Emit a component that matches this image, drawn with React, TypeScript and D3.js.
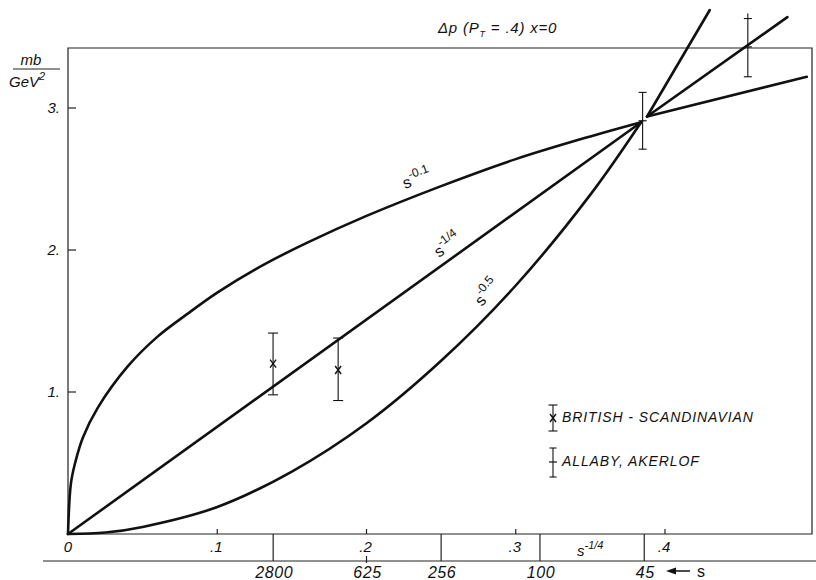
import { useEffect, useRef } from 'react';
import * as d3 from 'd3';

// x axis is s^-1/4, y axis is mb/GeV^2
const upperCurveX = [0, 0.002, 0.005, 0.01, 0.02, 0.04, 0.06, 0.08, 0.1, 0.13, 0.16, 0.2, 0.25, 0.3, 0.35, 0.384];
const upperCurveY = [0, 0.36, 0.51, 0.68, 0.89, 1.18, 1.39, 1.55, 1.7, 1.89, 2.05, 2.24, 2.45, 2.64, 2.8, 2.9];
const middleLineX = [0, 0.384];
const middleLineY = [0, 2.9];
const lowerCurveX = [0, 0.025, 0.05, 0.1, 0.15, 0.2, 0.25, 0.3, 0.35, 0.384];
const lowerCurveY = [0, 0.01, 0.05, 0.19, 0.44, 0.78, 1.22, 1.75, 2.39, 2.9];

// straight continuations above s = 45
const tailStart = [0.388, 2.94];
const tailEndX = [0.43, 0.482, 0.495];
const tailEndY = [3.69, 3.64, 3.22];

// British-Scandinavian points
const bsX = [0.1374, 0.181];
const bsY = [1.2, 1.155];
const bsLo = [0.98, 0.94];
const bsHi = [1.415, 1.38];

// Allaby, Akerlof points
const alX = [0.385, 0.4555];
const alY = [2.91, 3.43];
const alLo = [2.71, 3.22];
const alHi = [3.11, 3.63];

const xTicks = [0.1, 0.2, 0.3, 0.4];
const yTicks = [1, 2, 3];
const sTicks = [2800, 625, 256, 100, 45];

const FONT = '"Liberation Sans", Arial, sans-serif';

export default function App() {
  const svgRef = useRef<SVGSVGElement>(null);

  useEffect(() => {
    if (!svgRef.current) return;
    const svg = d3.select(svgRef.current);
    svg.selectAll('*').remove();

    const x = d3.scaleLinear().domain([0, 0.4]).range([68, 665]);
    const y = d3.scaleLinear().domain([0, 3]).range([534, 108]);
    const xAxisY = y(0);
    const sLineY = 561;
    const frameTop = 48;
    const frameRight = 812;

    const txt = (sel: d3.Selection<any, any, any, any>) =>
      sel.attr('font-family', FONT).attr('font-style', 'italic').attr('fill', '#111');

    // frame
    svg.append('path')
      .attr('d', `M${x(0)},${xAxisY}V${frameTop}H${frameRight}V${xAxisY}H${x(0)}`)
      .attr('fill', 'none').attr('stroke', '#222').attr('stroke-width', 1.2);

    // y ticks
    yTicks.forEach((t) => {
      svg.append('line').attr('x1', x(0)).attr('x2', x(0) + 8).attr('y1', y(t)).attr('y2', y(t))
        .attr('stroke', '#222').attr('stroke-width', 1.2);
      txt(svg.append('text')).attr('x', 60).attr('y', y(t) + 5).attr('text-anchor', 'end')
        .attr('font-size', 15).text(`${t}.`);
    });

    // y label mb / GeV^2
    txt(svg.append('text')).attr('x', 31).attr('y', 65).attr('text-anchor', 'middle').attr('font-size', 15).text('mb');
    svg.append('line').attr('x1', 13).attr('x2', 60).attr('y1', 69).attr('y2', 69).attr('stroke', '#222').attr('stroke-width', 1.2);
    const gev = txt(svg.append('text')).attr('x', 9).attr('y', 87).attr('font-size', 15);
    gev.append('tspan').text('GeV');
    gev.append('tspan').attr('dy', -7).attr('font-size', 11).text('2');

    // x ticks on main axis
    xTicks.forEach((t) => {
      svg.append('line').attr('x1', x(t)).attr('x2', x(t)).attr('y1', xAxisY).attr('y2', xAxisY - 5)
        .attr('stroke', '#222').attr('stroke-width', 1.2);
      txt(svg.append('text')).attr('x', x(t) - 1).attr('y', 552).attr('text-anchor', 'middle')
        .attr('font-size', 15).text(`.${Math.round(t * 10)}`);
    });
    txt(svg.append('text')).attr('x', x(0)).attr('y', 552).attr('text-anchor', 'middle').attr('font-size', 15).text('0');

    // s^-1/4 label
    const sq = txt(svg.append('text')).attr('x', 577).attr('y', 556).attr('font-size', 15);
    sq.append('tspan').text('s');
    sq.append('tspan').attr('dy', -7).attr('font-size', 11).text('-1/4');

    // secondary s scale
    svg.append('line').attr('x1', 43).attr('x2', 816).attr('y1', sLineY).attr('y2', sLineY)
      .attr('stroke', '#222').attr('stroke-width', 1.2);
    sTicks.forEach((s) => {
      const px = x(Math.pow(s, -0.25));
      if (s === 625) {
        svg.append('line').attr('x1', px).attr('x2', px).attr('y1', sLineY - 5).attr('y2', sLineY + 2)
          .attr('stroke', '#222').attr('stroke-width', 1.2);
      } else {
        svg.append('line').attr('x1', px).attr('x2', px).attr('y1', xAxisY).attr('y2', sLineY)
          .attr('stroke', '#222').attr('stroke-width', 1.2);
      }
      txt(svg.append('text')).attr('x', px + 1).attr('y', 578).attr('text-anchor', 'middle')
        .attr('font-size', 16).attr('letter-spacing', 0.6).text(String(s));
    });
    // arrow "<- s"
    svg.append('line').attr('x1', 672).attr('x2', 690).attr('y1', 571).attr('y2', 571).attr('stroke', '#111').attr('stroke-width', 1.5);
    svg.append('path').attr('d', 'M666,571 L676,567.5 L676,574.5 Z').attr('fill', '#111');
    svg.append('text').attr('x', 697).attr('y', 577).attr('font-family', FONT).attr('font-size', 16).attr('fill', '#111').text('s');

    // title
    const title = txt(svg.append('text')).attr('x', 438).attr('y', 33).attr('font-size', 15).attr('letter-spacing', 0.8);
    title.append('tspan').text('Δp (P');
    title.append('tspan').attr('dy', 4).attr('font-size', 9).text('T');
    title.append('tspan').attr('dy', -4).text(' = .4) x=0');

    // curves
    const line = d3.line<[number, number]>().x((d) => x(d[0])).y((d) => y(d[1]));
    const smooth = d3.line<[number, number]>().x((d) => x(d[0])).y((d) => y(d[1])).curve(d3.curveCatmullRom.alpha(0.5));
    const zip = (a: number[], b: number[]) => a.map((v, i) => [v, b[i]] as [number, number]);
    const curveStyle = (p: d3.Selection<SVGPathElement, any, any, any>) =>
      p.attr('fill', 'none').attr('stroke', '#111').attr('stroke-width', 2.6).attr('stroke-linecap', 'round');

    curveStyle(svg.append('path').attr('d', smooth(zip(upperCurveX, upperCurveY))));
    curveStyle(svg.append('path').attr('d', line(zip(middleLineX, middleLineY))));
    curveStyle(svg.append('path').attr('d', smooth(zip(lowerCurveX, lowerCurveY))));
    tailEndX.forEach((ex, i) => {
      curveStyle(svg.append('path').attr('d', line([[tailStart[0], tailStart[1]], [ex, tailEndY[i]]])));
    });

    // curve labels
    const curveLabels = [
      { sup: '-0.1', px: 405, py: 189, rot: -20 },
      { sup: '-1/4', px: 439, py: 258, rot: -36 },
      { sup: '-0.5', px: 482, py: 307, rot: -50 },
    ];
    curveLabels.forEach((l) => {
      const t = svg.append('text').attr('transform', `translate(${l.px},${l.py}) rotate(${l.rot})`)
        .attr('font-family', FONT).attr('font-size', 16).attr('fill', '#111');
      t.append('tspan').text('s');
      t.append('tspan').attr('dy', -8).attr('font-size', 12).text(l.sup);
    });

    // error bars
    const errBar = (cx: number, top: number, bot: number, cap: number) => {
      svg.append('line').attr('x1', cx).attr('x2', cx).attr('y1', top).attr('y2', bot).attr('stroke', '#111').attr('stroke-width', 1.1);
      [top, bot].forEach((yy) =>
        svg.append('line').attr('x1', cx - cap / 2).attr('x2', cx + cap / 2).attr('y1', yy).attr('y2', yy).attr('stroke', '#111').attr('stroke-width', 1.1));
    };
    const xMark = (cx: number, cy: number) => {
      svg.append('path').attr('d', `M${cx - 3},${cy - 4}L${cx + 3},${cy + 4}M${cx + 3},${cy - 4}L${cx - 3},${cy + 4}`)
        .attr('stroke', '#111').attr('stroke-width', 1.4);
    };
    const plusMark = (cx: number, cy: number) => {
      svg.append('path').attr('d', `M${cx - 4},${cy}H${cx + 4}`).attr('stroke', '#111').attr('stroke-width', 1.2);
    };

    bsX.forEach((v, i) => {
      errBar(x(v), y(bsHi[i]), y(bsLo[i]), 10);
      xMark(x(v), y(bsY[i]));
    });
    alX.forEach((v, i) => {
      errBar(x(v), y(alHi[i]), y(alLo[i]), 8);
      plusMark(x(v), y(alY[i]));
    });
    // small tick above the top cap of the upper Allaby point
    svg.append('line').attr('x1', x(alX[1])).attr('x2', x(alX[1])).attr('y1', y(alHi[1]) - 5).attr('y2', y(alHi[1]))
      .attr('stroke', '#111').attr('stroke-width', 1.1);

    // legend
    errBar(553, 405, 431, 9);
    xMark(553, 418);
    txt(svg.append('text')).attr('x', 562).attr('y', 422).attr('font-size', 14).attr('letter-spacing', 0.9).text('BRITISH - SCANDINAVIAN');
    errBar(553, 448, 477, 7);
    plusMark(553, 462);
    txt(svg.append('text')).attr('x', 562).attr('y', 466).attr('font-size', 14).attr('letter-spacing', 0.9).text('ALLABY, AKERLOF');
  }, []);

  return (
    <div style={{ position: 'absolute', left: 0, top: 0, width: 816, height: 580, background: '#fff' }}>
      <svg ref={svgRef} width={816} height={580} style={{ display: 'block' }} />
    </div>
  );
}
